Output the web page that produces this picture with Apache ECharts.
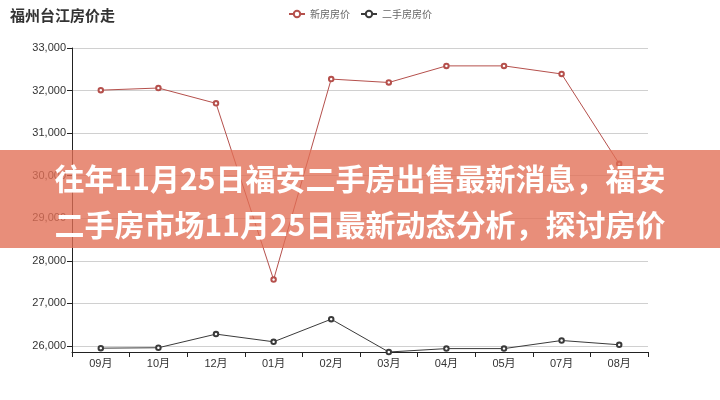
<!DOCTYPE html>
<html>
<head>
<meta charset="utf-8">
<script src="https://cdn.jsdelivr.net/npm/echarts@6/dist/echarts.min.js"></script>
<style>
html,body{margin:0;padding:0;background:#fff;}
#chart{width:720px;height:400px;}
</style>
</head>
<body>
<div id="chart"></div>
<script>
const titleText = '福州台江房价走';
const categories = ['09月','10月','12月','01月','02月','03月','04月','05月','07月','08月'];
const newHousePrice = [32010, 32060, 31700, 27560, 32270, 32190, 32580, 32580, 32390, 30280];
const secondHandPrice = [25950, 25960, 26280, 26100, 26630, 25860, 25940, 25940, 26130, 26030];
const seriesNames = ['新房房价', '二手房房价'];
const bannerLines = ['往年11月25日福安二手房出售最新消息，福安', '二手房市场11月25日最新动态分析，探讨房价'];

const FONT = '"Liberation Sans", Arial, "Noto Sans CJK SC", sans-serif';
const chart = echarts.init(document.getElementById('chart'), null, {renderer: 'canvas'});
chart.setOption({
  animation: false,
  backgroundColor: '#fff',
  title: {
    text: titleText,
    left: 5, top: 3,
    textStyle: {fontSize: 15, fontWeight: 'bold', color: '#333', fontFamily: '"Noto Sans CJK SC", sans-serif'}
  },
  legend: {
    data: seriesNames,
    left: 'center', top: 4,
    itemWidth: 16, itemHeight: 8, itemGap: 10,
    textStyle: {fontSize: 10, color: '#666', fontFamily: '"Noto Sans CJK SC", sans-serif'}
  },
  grid: {left: 72, right: 72, top: 48, bottom: 48, containLabel: false},
  xAxis: {
    type: 'category',
    data: categories,
    boundaryGap: true,
    axisLine: {lineStyle: {color: '#222', width: 1}},
    axisTick: {show: true, length: 5, lineStyle: {color: '#222'}},
    axisLabel: {fontSize: 11, color: '#333', margin: 6, fontFamily: FONT},
    splitLine: {show: false}
  },
  yAxis: {
    type: 'value',
    min: 'dataMin',
    max: 33000,
    splitNumber: 7,
    axisLine: {show: true, lineStyle: {color: '#222', width: 1}},
    axisTick: {show: true, length: 5, lineStyle: {color: '#222'}},
    axisLabel: {
      fontSize: 11, color: '#333', margin: 6, fontFamily: FONT,
      showMinLabel: false,
      formatter: v => (v % 1000 === 0 ? v.toLocaleString('en-US') : '')
    },
    splitLine: {show: true, lineStyle: {color: '#d0d0d0', width: 1}}
  },
  series: [
    {
      name: seriesNames[0], type: 'line', data: newHousePrice,
      symbol: 'emptyCircle', symbolSize: 4.5,
      itemStyle: {color: '#b5504c', borderWidth: 0.8},
      lineStyle: {color: '#b5504c', width: 1}
    },
    {
      name: seriesNames[1], type: 'line', data: secondHandPrice,
      symbol: 'emptyCircle', symbolSize: 4.5,
      itemStyle: {color: '#3a3a3a', borderWidth: 0.8},
      lineStyle: {color: '#3a3a3a', width: 1}
    }
  ],
  graphic: [
    {
      type: 'rect', left: 0, top: 150, z: 100,
      shape: {width: 720, height: 98},
      style: {fill: 'rgba(226,110,85,0.78)'}
    },
    {
      type: 'text', z: 101, left: 'center', top: 164,
      style: {text: bannerLines[0], fill: '#fff', font: 'bold 30px "Noto Sans CJK SC", sans-serif'}
    },
    {
      type: 'text', z: 101, left: 'center', top: 210,
      style: {text: bannerLines[1], fill: '#fff', font: 'bold 30px "Noto Sans CJK SC", sans-serif'}
    }
  ]
});
</script>
</body>
</html>
